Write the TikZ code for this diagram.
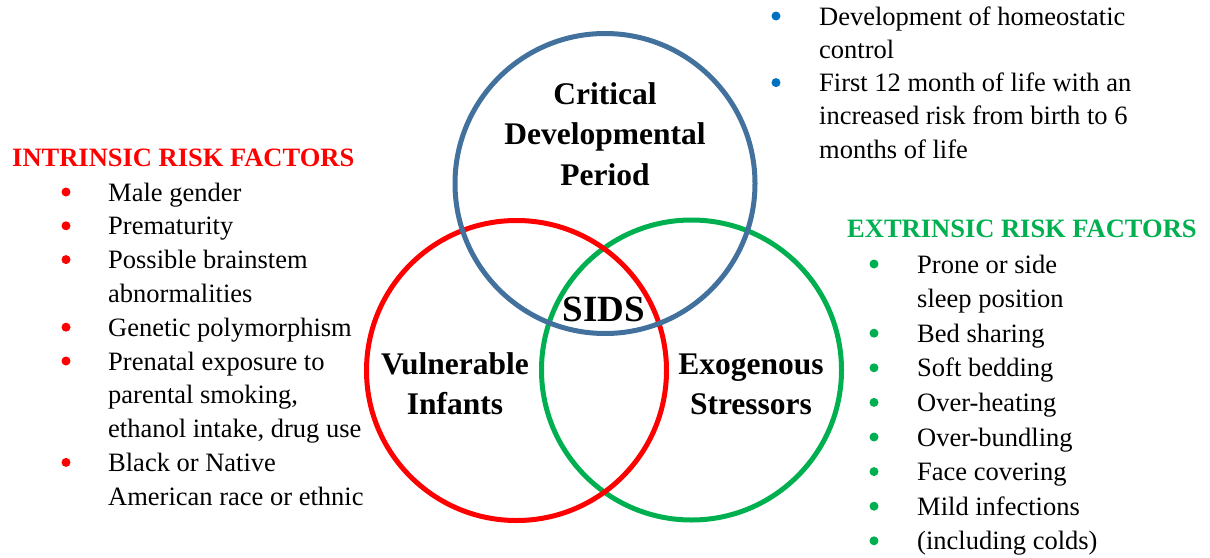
\documentclass[tikz,border=0pt]{standalone}
\usepackage{fontspec}
\setmainfont{Liberation Serif}
\usetikzlibrary{calc}
\definecolor{critblue}{RGB}{65,113,156}
\definecolor{intrred}{RGB}{255,0,0}
\definecolor{extrgreen}{RGB}{0,176,80}
\definecolor{dotblue}{RGB}{0,112,192}

\newcommand{\listfont}[1]{\fontsize{26.5}{#1}\selectfont}

\begin{document}
\begin{tikzpicture}[x=1pt,y=-1pt,
    venn/.style={circle, draw=#1, line width=5pt, minimum size=300pt, inner sep=0pt},
    vennlabel/.style={anchor=base, inner sep=0pt, font=\fontsize{31.5}{40.5}\selectfont\bfseries},
    riskhead/.style={anchor=base west, inner sep=0pt, font=\fontsize{26.5}{33}\selectfont\bfseries, text=#1},
    risklist/.style={anchor=base west, inner sep=0pt, font=\listfont{#1}}]
    \useasboundingbox (0,0) rectangle (1210,557);

    % the three circles, blue on top
    \node[venn=extrgreen] (exo) at (691.5,370) {};
    \node[venn=intrred] (vuln) at (516.5,370.5) {};
    \node[venn=critblue] (crit) at (605,183.5) {};

    \node[vennlabel] (critlbl) at (605,104)
        {\begin{tabular}[t]{@{}c@{}}Critical\\Developmental\\Period\end{tabular}};
    \node[vennlabel] (vulnlbl) at (455,374)
        {\begin{tabular}[t]{@{}c@{}}Vulnerable\\Infants\end{tabular}};
    \node[vennlabel] (exolbl) at (751,374)
        {\begin{tabular}[t]{@{}c@{}}Exogenous\\Stressors\end{tabular}};
    \node[vennlabel, font=\fontsize{37}{40}\selectfont\bfseries] (sids) at (604,321) {SIDS};

    % developmental period
    \node[risklist=33.3] (critlist) at (819,25) {\begin{tabular}[t]{@{}l@{}}
        Development of homeostatic\\
        control\\
        First 12 month of life with an\\
        increased risk from birth to 6\\
        months of life
        \end{tabular}};
    \foreach \r in {0,2}
        \fill[dotblue] ($(critlist.base west)+(-43,{\r*33.3-9})$) circle (4.5pt);

    % intrinsic
    \node[riskhead=intrred] (intrhead) at (12,166) {INTRINSIC RISK FACTORS};
    \node[risklist=33.8] (intrlist) at (108,201) {\begin{tabular}[t]{@{}l@{}}
        Male gender\\
        Prematurity\\
        Possible brainstem\\
        abnormalities\\
        Genetic polymorphism\\
        Prenatal exposure to\\
        parental smoking,\\
        ethanol intake, drug use\\
        Black or Native\\
        American race or ethnic
        \end{tabular}};
    \foreach \r in {0,1,2,4,5,8}
        \fill[intrred] ($(intrlist.base west)+(-42,{\r*33.8-9})$) circle (4.5pt);

    % extrinsic
    \node[riskhead=extrgreen] (extrhead) at (847,237) {EXTRINSIC RISK FACTORS};
    \node[risklist=34.6] (extrlist) at (917,273) {\begin{tabular}[t]{@{}l@{}}
        Prone or side\\
        sleep position\\
        Bed sharing\\
        Soft bedding\\
        Over-heating\\
        Over-bundling\\
        Face covering\\
        Mild infections\\
        (including colds)
        \end{tabular}};
    \foreach \r in {0,2,3,...,8}
        \fill[extrgreen] ($(extrlist.base west)+(-43,{\r*34.6-9})$) circle (4.5pt);
\end{tikzpicture}
\end{document}
